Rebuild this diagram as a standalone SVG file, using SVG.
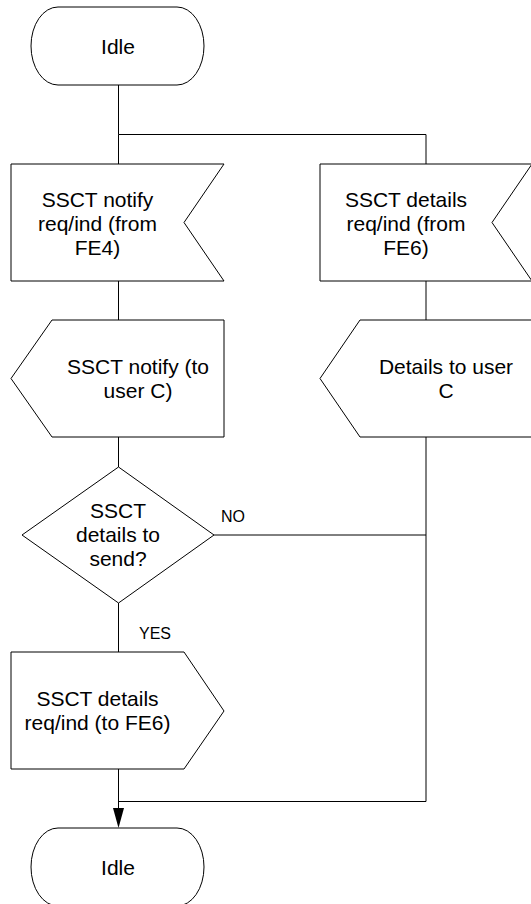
<svg xmlns="http://www.w3.org/2000/svg" width="531" height="904" viewBox="0 0 531 904">
<defs>
<style>
.s{fill:#fff;stroke:#000;stroke-width:1}
.t{font-family:"Liberation Sans",Arial,sans-serif;font-size:21px;fill:#000;text-anchor:middle}
.l{font-family:"Liberation Sans",Arial,sans-serif;font-size:16px;fill:#000}
.c{fill:none;stroke:#000;stroke-width:1}
.a{fill:#000;stroke:none}
</style>
</defs>
<rect width="531" height="904" fill="#fff"/>
<g id="connectors">
<polyline class="c" points="118.5,85 118.5,134.5 426,134.5 426,164"/>
<line class="c" x1="118.5" y1="134.5" x2="118.5" y2="164"/>
<line class="c" x1="118.5" y1="281" x2="118.5" y2="320"/>
<line class="c" x1="426" y1="281" x2="426" y2="320"/>
<line class="c" x1="118.5" y1="437" x2="118.5" y2="467"/>
<polyline class="c" points="214,535 426,535"/>
<polyline class="c" points="426,437 426,801.5 118.5,801.5"/>
<line class="c" x1="118.5" y1="603" x2="118.5" y2="652"/>
<line class="c" x1="118.5" y1="769" x2="118.5" y2="810"/>
<polygon class="a" points="113,808 124,808 118.5,828"/>
<text class="l" x="221" y="522">NO</text>
<text class="l" x="139" y="639">YES</text>
</g>
<g id="idle-top">
<rect class="s" x="31" y="7" width="173" height="78" rx="27" ry="39"/>
<text class="t" x="118" y="54">Idle</text>
</g>
<g id="notify-in">
<polygon class="s" points="11,164 224,164 184,222.5 224,281 11,281"/>
<text class="t" x="97.5" y="207">SSCT notify</text>
<text class="t" x="97.5" y="231">req/ind (from</text>
<text class="t" x="97.5" y="255">FE4)</text>
</g>
<g id="details-in">
<polygon class="s" points="320,164 532,164 492,222.5 532,281 320,281"/>
<text class="t" x="406" y="207">SSCT details</text>
<text class="t" x="406" y="231">req/ind (from</text>
<text class="t" x="406" y="255">FE6)</text>
</g>
<g id="notify-out">
<polygon class="s" points="52,320 224,320 224,437 52,437 11,378.5"/>
<text class="t" x="138" y="374">SSCT notify (to</text>
<text class="t" x="138" y="398">user C)</text>
</g>
<g id="details-out">
<polygon class="s" points="360,320 532,320 532,437 360,437 320,378.5"/>
<text class="t" x="446" y="374">Details to user</text>
<text class="t" x="446" y="398">C</text>
</g>
<g id="decision">
<polygon class="s" points="118.5,467 214,535 118.5,603 22,535"/>
<text class="t" x="118" y="518">SSCT</text>
<text class="t" x="118" y="542">details to</text>
<text class="t" x="118" y="566">send?</text>
</g>
<g id="details-send">
<polygon class="s" points="11,652 184,652 224,711 184,769 11,769"/>
<text class="t" x="97.5" y="706">SSCT details</text>
<text class="t" x="97.5" y="730">req/ind (to FE6)</text>
</g>
<g id="idle-bottom">
<rect class="s" x="31" y="828" width="173" height="78" rx="27" ry="39"/>
<text class="t" x="118" y="875">Idle</text>
</g>
</svg>
